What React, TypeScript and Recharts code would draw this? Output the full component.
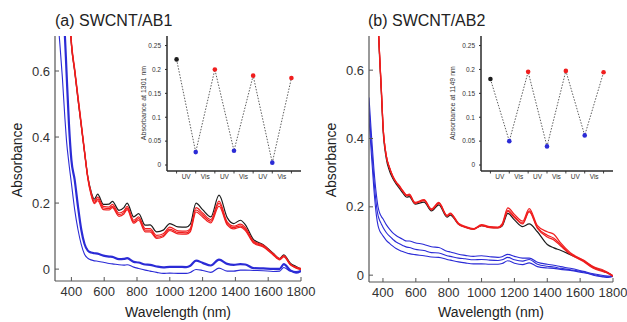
import { LineChart, Line, XAxis, YAxis } from "recharts"

const font = "'Liberation Sans', Arial, sans-serif"

const wavelengthTicks = [400, 600, 800, 1000, 1200, 1400, 1600, 1800]
const absTicks = [0, 0.2, 0.4, 0.6]

// (a) SWCNT/AB1 spectra
const aNm = [300, 330, 345, 360, 370, 385, 400, 420, 440, 460, 480, 500, 520, 540, 560, 595, 630, 650, 690, 720, 740, 780, 810, 850, 880, 920, 960, 1000, 1050, 1100, 1125, 1160, 1200, 1250, 1300, 1350, 1390, 1430, 1460, 1510, 1570, 1630, 1670, 1695, 1735, 1770, 1800]
const aBlack = [1.3, 1.2, 1.1, 1.0, 0.93, 0.8, 0.68, 0.6, 0.515, 0.435, 0.355, 0.28, 0.235, 0.212, 0.227, 0.196, 0.197, 0.205, 0.178, 0.186, 0.2, 0.158, 0.168, 0.133, 0.134, 0.113, 0.118, 0.138, 0.128, 0.127, 0.136, 0.2, 0.18, 0.158, 0.224, 0.156, 0.138, 0.148, 0.135, 0.09, 0.074, 0.048, 0.032, 0.043, 0.018, 0.008, 0.0]
const aRed1 = [1.3, 1.2, 1.1, 1.0, 0.94, 0.81, 0.69, 0.607, 0.525, 0.443, 0.36, 0.28, 0.232, 0.206, 0.218, 0.19, 0.188, 0.196, 0.17, 0.176, 0.19, 0.148, 0.158, 0.123, 0.123, 0.102, 0.107, 0.127, 0.116, 0.115, 0.123, 0.186, 0.17, 0.15, 0.206, 0.143, 0.13, 0.136, 0.126, 0.085, 0.072, 0.047, 0.032, 0.041, 0.016, 0.006, 0.002]
const aRed2 = [1.3, 1.2, 1.1, 1.0, 0.935, 0.805, 0.685, 0.603, 0.52, 0.438, 0.356, 0.277, 0.228, 0.201, 0.212, 0.185, 0.183, 0.19, 0.165, 0.171, 0.185, 0.143, 0.153, 0.118, 0.118, 0.097, 0.102, 0.121, 0.111, 0.11, 0.118, 0.179, 0.164, 0.145, 0.199, 0.138, 0.126, 0.131, 0.121, 0.082, 0.069, 0.045, 0.03, 0.039, 0.014, 0.004, 0.0]
const aRed3 = [1.3, 1.2, 1.1, 1.0, 0.93, 0.8, 0.68, 0.598, 0.515, 0.434, 0.352, 0.274, 0.225, 0.198, 0.207, 0.18, 0.179, 0.186, 0.16, 0.167, 0.18, 0.139, 0.148, 0.113, 0.113, 0.093, 0.098, 0.117, 0.107, 0.106, 0.113, 0.173, 0.158, 0.14, 0.191, 0.134, 0.122, 0.127, 0.117, 0.079, 0.067, 0.043, 0.028, 0.037, 0.013, 0.003, -0.002]
const aBlueHi = [1.0, 0.88, 0.8, 0.71, 0.6, 0.44, 0.33, 0.27, 0.19, 0.12, 0.076, 0.056, 0.05, 0.048, 0.047, 0.041, 0.038, 0.037, 0.03, 0.031, 0.033, 0.022, 0.02, 0.014, 0.013, 0.008, 0.005, 0.007, 0.007, 0.006, 0.01, 0.026, 0.019, 0.011, 0.029, 0.016, 0.013, 0.015, 0.014, 0.003, 0.002, 0.001, 0.001, 0.015, -0.004, -0.011, -0.006]
const aBlueLo = [0.85, 0.68, 0.58, 0.46, 0.39, 0.32, 0.26, 0.18, 0.12, 0.075, 0.045, 0.033, 0.028, 0.025, 0.024, 0.021, 0.017, 0.016, 0.013, 0.012, 0.013, 0.006, 0.002, -0.003, -0.006, -0.01, -0.013, -0.012, -0.013, -0.013, -0.01, -0.001, -0.004, -0.01, 0.003, -0.006, -0.006, -0.003, -0.003, -0.004, -0.005, -0.007, -0.006, 0.005, -0.006, -0.007, -0.005]

// (b) SWCNT/AB2 spectra
const bNm = [315, 330, 345, 360, 370, 380, 390, 400, 420, 440, 460, 480, 500, 520, 545, 560, 595, 650, 695, 740, 790, 810, 860, 900, 950, 1000, 1050, 1100, 1125, 1160, 1200, 1250, 1290, 1340, 1400, 1440, 1480, 1540, 1620, 1680, 1740, 1770, 1800]
const bBlack = [1.3, 1.2, 1.05, 0.88, 0.74, 0.63, 0.535, 0.43, 0.342, 0.305, 0.283, 0.267, 0.254, 0.241, 0.228, 0.23, 0.208, 0.214, 0.188, 0.206, 0.17, 0.176, 0.149, 0.141, 0.135, 0.145, 0.14, 0.139, 0.144, 0.181, 0.162, 0.142, 0.15, 0.127, 0.09, 0.08, 0.073, 0.06, 0.042, 0.023, 0.012, 0.006, -0.002]
const bRed1 = [1.3, 1.2, 1.05, 0.88, 0.745, 0.64, 0.545, 0.44, 0.35, 0.315, 0.29, 0.273, 0.262, 0.248, 0.235, 0.237, 0.213, 0.221, 0.194, 0.213, 0.175, 0.182, 0.152, 0.143, 0.136, 0.148, 0.142, 0.141, 0.15, 0.197, 0.178, 0.158, 0.195, 0.145, 0.127, 0.12, 0.095, 0.066, 0.044, 0.025, 0.015, 0.008, -0.002]
const bRed2 = [1.3, 1.2, 1.05, 0.88, 0.745, 0.64, 0.545, 0.44, 0.35, 0.314, 0.289, 0.272, 0.26, 0.246, 0.233, 0.235, 0.211, 0.219, 0.192, 0.211, 0.174, 0.18, 0.15, 0.141, 0.135, 0.146, 0.14, 0.139, 0.147, 0.19, 0.172, 0.153, 0.188, 0.14, 0.117, 0.108, 0.09, 0.063, 0.042, 0.022, 0.012, 0.006, -0.003]
const bRed3 = [1.3, 1.2, 1.05, 0.88, 0.745, 0.64, 0.545, 0.44, 0.35, 0.313, 0.288, 0.271, 0.259, 0.245, 0.232, 0.234, 0.21, 0.218, 0.191, 0.21, 0.173, 0.179, 0.149, 0.14, 0.134, 0.145, 0.139, 0.138, 0.146, 0.187, 0.169, 0.15, 0.185, 0.137, 0.112, 0.103, 0.086, 0.061, 0.04, 0.02, 0.01, 0.005, -0.003]
const bBlueHi = [0.52, 0.41, 0.31, 0.235, 0.2, 0.182, 0.172, 0.165, 0.148, 0.135, 0.124, 0.116, 0.11, 0.105, 0.1, 0.1, 0.095, 0.09, 0.083, 0.081, 0.07, 0.068, 0.061, 0.058, 0.055, 0.057, 0.054, 0.052, 0.054, 0.061, 0.055, 0.05, 0.05, 0.038, 0.032, 0.029, 0.025, 0.02, 0.011, 0.004, -0.001, -0.003, -0.003]
const bBlueMid = [0.49, 0.38, 0.28, 0.205, 0.175, 0.16, 0.15, 0.14, 0.125, 0.114, 0.105, 0.097, 0.092, 0.087, 0.082, 0.081, 0.076, 0.072, 0.066, 0.065, 0.057, 0.055, 0.05, 0.048, 0.045, 0.046, 0.044, 0.043, 0.045, 0.052, 0.045, 0.041, 0.046, 0.032, 0.026, 0.024, 0.02, 0.016, 0.009, 0.0, -0.005, -0.007, -0.004]
const bBlueLo = [0.46, 0.35, 0.25, 0.175, 0.145, 0.13, 0.122, 0.115, 0.102, 0.093, 0.085, 0.078, 0.073, 0.069, 0.065, 0.063, 0.06, 0.057, 0.053, 0.052, 0.046, 0.044, 0.039, 0.036, 0.033, 0.033, 0.032, 0.032, 0.034, 0.042, 0.035, 0.031, 0.036, 0.025, 0.021, 0.02, 0.017, 0.014, 0.007, 0.002, -0.003, -0.003, -0.003]

// insets: absorbance at a fixed wavelength over UV / Vis cycles
const cycleStates = ["initial", "UV", "Vis", "UV", "Vis", "UV", "Vis"]
const cycleLabels = ["UV", "Vis", "UV", "Vis", "UV", "Vis"]
const insetTicks = [0, 0.5, 1, 1.5, 2, 2.5, 3, 3.5, 4, 4.5, 5, 5.5, 6]
const insetAbsTicks = [0, 0.05, 0.1, 0.15, 0.2, 0.25]
const insetStepDomain = [-0.5, 6.5]
const insetAbsDomain = [-0.0125, 0.27]
const inset1301 = [0.221, 0.027, 0.2, 0.03, 0.187, 0.005, 0.182]
const inset1149 = [0.18, 0.05, 0.195, 0.039, 0.197, 0.062, 0.194]

const BLACK = "#1c1c1c"
const RED = "#f01e1e"
const BLUE = "#2b2bd6"
const AXIS = "#555"
const INSET_AXIS = "#2a2a2a"

const stateColor: Record<string, string> = { initial: BLACK, UV: BLUE, Vis: RED }

const aRows = aNm.map((nm, i) => ({
  nm, black: aBlack[i], red1: aRed1[i], red2: aRed2[i], red3: aRed3[i], blueHi: aBlueHi[i], blueLo: aBlueLo[i],
}))
const bRows = bNm.map((nm, i) => ({
  nm, black: bBlack[i], red1: bRed1[i], red2: bRed2[i], red3: bRed3[i], blueHi: bBlueHi[i], blueMid: bBlueMid[i], blueLo: bBlueLo[i],
}))

const aSeries = [
  { key: "blueLo", color: BLUE, width: 1.1 },
  { key: "blueHi", color: BLUE, width: 2.2 },
  { key: "black", color: BLACK, width: 1.2 },
  { key: "red3", color: RED, width: 1.2 },
  { key: "red2", color: RED, width: 1.2 },
  { key: "red1", color: RED, width: 1.2 },
]
const bSeries = [
  { key: "blueLo", color: BLUE, width: 1.1 },
  { key: "blueMid", color: BLUE, width: 1.1 },
  { key: "blueHi", color: BLUE, width: 1.1 },
  { key: "black", color: BLACK, width: 1.2 },
  { key: "red3", color: RED, width: 1.2 },
  { key: "red2", color: RED, width: 1.2 },
  { key: "red1", color: RED, width: 1.2 },
]

const tickStyle = { fontSize: 13, fill: "#333", fontFamily: font }
const frameLine = { stroke: AXIS, strokeWidth: 1.2 }
const insetFrame = { stroke: INSET_AXIS, strokeWidth: 1.5 }

function Spectrum({ rows, series, xDomain, yDomain, left, width, height, axisWidth, marginRight }: any) {
  return (
    <div style={{ position: "absolute", left, top: 0, zIndex: 1 }}>
      <LineChart width={width} height={height} data={rows} margin={{ top: 36, right: marginRight, bottom: 0, left: 0 }}>
        <XAxis dataKey="nm" type="number" domain={xDomain} ticks={wavelengthTicks} interval={0} allowDataOverflow
          tickSize={-4} tickMargin={10} height={19} stroke={AXIS} axisLine={frameLine} tick={tickStyle} />
        <XAxis xAxisId="top" dataKey="nm" orientation="top" type="number" domain={xDomain} allowDataOverflow
          tick={false} tickLine={false} height={0} stroke={AXIS} axisLine={frameLine} />
        <YAxis type="number" domain={yDomain} ticks={absTicks} interval={0} allowDataOverflow
          tickSize={-4} tickMargin={9} width={axisWidth} stroke={AXIS} axisLine={frameLine} tick={tickStyle} />
        <YAxis yAxisId="right" orientation="right" type="number" domain={yDomain} allowDataOverflow
          tick={false} tickLine={false} width={0} stroke={AXIS} axisLine={frameLine} />
        {series.map((s: any) => (
          <Line key={s.key} dataKey={s.key} type="monotone" stroke={s.color} strokeWidth={s.width}
            dot={false} isAnimationActive={false} />
        ))}
      </LineChart>
    </div>
  )
}

// default tick size (6) + margin (2): y arrives 8px under the inset's bottom edge
function CycleTick({ x, y, payload }: any) {
  const v = payload.value
  if (Number.isInteger(v)) {
    return <line x1={x} x2={x} y1={y - 8} y2={y - 5.5} stroke={INSET_AXIS} strokeWidth={0.9} />
  }
  return (
    <text x={x} y={y - 0.5} textAnchor="middle" fontSize={6.5} fill="#333" fontFamily={font}>
      {cycleLabels[Math.floor(v)]}
    </text>
  )
}

function Inset({ values, label, left, width, labelX }: any) {
  const rows = values.map((abs: number, i: number) => ({ step: i, abs, state: cycleStates[i] }))
  return (
    <div style={{ position: "absolute", left, top: 30, zIndex: 2 }}>
      <LineChart width={width} height={160} data={rows} margin={{ top: 6, right: 1, bottom: 0, left: 0 }}>
        <XAxis dataKey="step" type="number" domain={insetStepDomain} ticks={insetTicks} interval={0}
          tick={<CycleTick />} tickLine={false} height={19} stroke={INSET_AXIS} axisLine={insetFrame} />
        <YAxis type="number" domain={insetAbsDomain} ticks={insetAbsTicks} interval={0} allowDataOverflow
          width={37} stroke={INSET_AXIS} axisLine={insetFrame} tickSize={2} tickMargin={4}
          tick={{ fontSize: 6.5, fill: "#333", fontFamily: font }} />
        <Line dataKey="abs" type="linear" stroke="#333" strokeWidth={0.8} strokeDasharray="1.5 1.5"
          isAnimationActive={false}
          dot={(p: any) => <circle key={p.index} cx={p.cx} cy={p.cy} r={2.3} fill={stateColor[p.payload.state]} />} />
      </LineChart>
      <div style={{ ...textBase, left: labelX, top: 73, fontSize: 7, color: "#333",
        transform: "translate(-50%, -50%) rotate(-90deg)" }}>
        {label}
      </div>
    </div>
  )
}

const textBase: any = { position: "absolute", fontFamily: font, color: "#222", whiteSpace: "nowrap", lineHeight: 1 }

function Title({ x, y, size, children }: any) {
  return <div style={{ ...textBase, left: x, top: y, fontSize: size, zIndex: 3 }}>{children}</div>
}

function CenterText({ cx, cy, size, rotate, children }: any) {
  return (
    <div style={{ ...textBase, left: cx, top: cy, fontSize: size, zIndex: 3,
      transform: `translate(-50%, -50%)${rotate ? " rotate(-90deg)" : ""}` }}>
      {children}
    </div>
  )
}

export default function App() {
  return (
    <div style={{ position: "absolute", left: 0, top: 0, width: 627, height: 322, background: "#fff", overflow: "hidden" }}>
      <Spectrum rows={aRows} series={aSeries} xDomain={[300, 1800]} yDomain={[-0.036, 0.706]}
        left={0} width={320} height={300} axisWidth={55} marginRight={19} />
      <Spectrum rows={bRows} series={bSeries} xDomain={[315, 1800]} yDomain={[-0.02, 0.7]}
        left={318} width={309} height={301} axisWidth={51} marginRight={14} />
      <Inset values={inset1301} label="Absorbance at 1301 nm" left={130} width={172} labelX={13} />
      <Inset values={inset1149} label="Absorbance at 1149 nm" left={444} width={170} labelX={8} />
      <Title x={55} y={13} size={16}>(a) SWCNT/AB1</Title>
      <Title x={368} y={13} size={16}>(b) SWCNT/AB2</Title>
      <CenterText cx={17} cy={160} size={14} rotate>Absorbance</CenterText>
      <CenterText cx={331} cy={160} size={14} rotate>Absorbance</CenterText>
      <CenterText cx={178} cy={312} size={14}>Wavelength (nm)</CenterText>
      <CenterText cx={491} cy={312} size={14}>Wavelength (nm)</CenterText>
    </div>
  )
}
